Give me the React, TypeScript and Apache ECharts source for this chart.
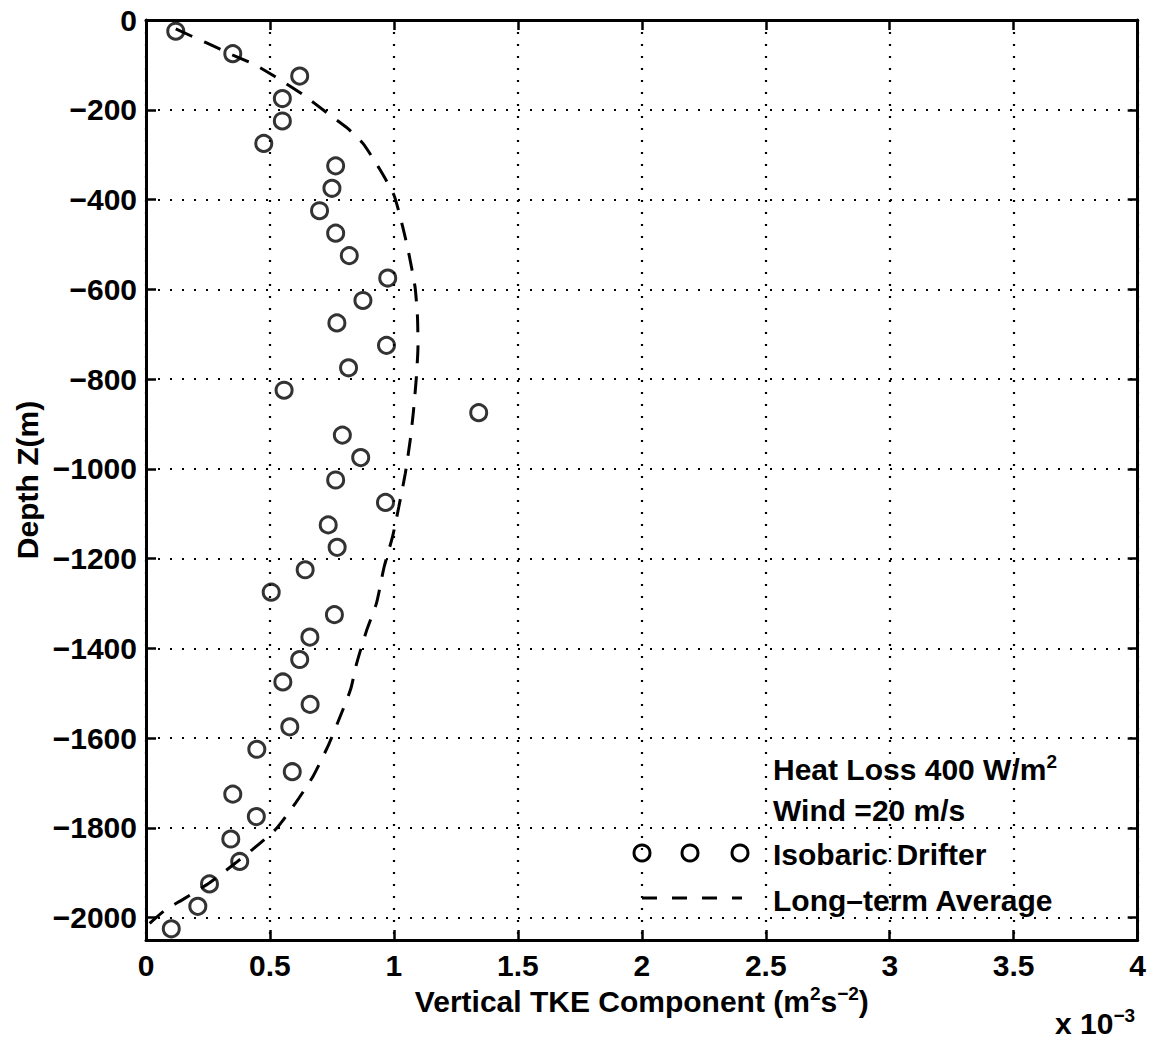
import React, { useEffect, useRef } from "react";
import * as echarts from "echarts";

// Isobaric drifter estimates (TKE in units of 1e-3 m^2 s^-2, depth in m)
const drifterDepth = [
  -25, -75, -125, -175, -225, -275, -325, -375, -425, -475, -525, -575, -625, -675,
  -725, -775, -825, -875, -925, -975, -1025, -1075, -1125, -1175, -1225, -1275,
  -1325, -1375, -1425, -1475, -1525, -1575, -1625, -1675, -1725, -1775, -1825,
  -1875, -1925, -1975, -2025,
];
const drifterTke = [
  0.12, 0.35, 0.62, 0.55, 0.55, 0.475, 0.765, 0.75, 0.7, 0.765, 0.82, 0.975, 0.875, 0.77,
  0.97, 0.817, 0.557, 1.342, 0.792, 0.866, 0.765, 0.966, 0.735, 0.771, 0.642, 0.505,
  0.76, 0.661, 0.62, 0.552, 0.662, 0.58, 0.447, 0.59, 0.35, 0.445, 0.342,
  0.378, 0.256, 0.209, 0.102,
];

// Long-term average profile
const averageDepth = [
  -20, -50, -78, -100, -126, -165, -207, -240, -275, -330, -390, -460, -520, -594,
  -661, -727, -800, -876, -935, -1010, -1084, -1150, -1220, -1299, -1360, -1433,
  -1492, -1566, -1618, -1685, -1745, -1804, -1849, -1878, -1923, -1960, -1982, -2020,
];
const averageTke = [
  0.12, 0.24, 0.35, 0.44, 0.52, 0.63, 0.73, 0.81, 0.875, 0.94, 1.0, 1.035, 1.06, 1.085,
  1.095, 1.097, 1.09, 1.078, 1.066, 1.046, 1.02, 0.995, 0.96, 0.93, 0.89, 0.85,
  0.825, 0.773, 0.734, 0.674, 0.603, 0.522, 0.428, 0.362, 0.255, 0.148, 0.08, 0.0,
];

const legendLines = ["Heat Loss 400 W/m{sup|2}", "Wind =20 m/s", "Isobaric Drifter", "Long\u2013term Average"];

export default function App() {
  const ref = useRef<HTMLDivElement>(null);

  useEffect(() => {
    if (!ref.current) return;
    const chart = echarts.init(ref.current, null, { renderer: "svg" });
    const font = "'Liberation Sans', Arial, Helvetica, sans-serif";
    const ink = "#000";
    const fs = 30;
    const fw = "bold";
    const sup = { fontSize: 19, fontWeight: fw, fontFamily: font, color: ink, padding: [0, 0, 16, 0] };
    const dotted = { show: true, lineStyle: { color: ink, width: 2.2, type: [2, 10] as any } };
    const axisLine = { show: true, onZero: false, lineStyle: { color: ink, width: 3 } };
    const axisTick = { show: true, inside: true, length: 10, lineStyle: { color: ink, width: 2.5 } };
    const xCommon = { type: "value", min: 0, max: 4, interval: 0.5 };
    const yCommon = { type: "value", min: -2050, max: 0, splitNumber: 10, minInterval: 200, maxInterval: 200 };

    const legendX = 773;
    const legendY = [769, 812, 856, 902];

    chart.setOption({
      animation: false,
      backgroundColor: "#fff",
      grid: { left: 146, right: 8, top: 20, bottom: 101 },
      xAxis: [
        {
          ...xCommon,
          position: "bottom",
          axisLine,
          axisTick,
          splitLine: dotted,
          axisLabel: {
            fontSize: fs,
            fontWeight: fw,
            fontFamily: font,
            color: ink,
            margin: 10,
            formatter: (v: number) => String(v),
          },
          name: "Vertical TKE Component (m{sup|2}s{sup|\u22122})",
          nameLocation: "middle",
          nameGap: 44,
          nameMoveOverlap: false,
          nameTextStyle: { fontSize: fs, fontWeight: fw, fontFamily: font, color: ink, rich: { sup } },
        },
        {
          ...xCommon,
          position: "top",
          axisLine,
          axisTick,
          splitLine: { show: false },
          axisLabel: { show: false },
        },
      ],
      yAxis: [
        {
          ...yCommon,
          position: "left",
          axisLine,
          axisTick,
          splitLine: dotted,
          axisLabel: {
            fontSize: fs,
            fontWeight: fw,
            fontFamily: font,
            color: ink,
            margin: 9,
            showMinLabel: false,
            formatter: (v: number) => (v < 0 ? "\u2212" + Math.abs(v) : String(v)),
          },
          name: "Depth Z(m)",
          nameLocation: "middle",
          nameGap: 104,
          nameMoveOverlap: false,
          nameTextStyle: { fontSize: fs, fontWeight: fw, fontFamily: font, color: ink },
        },
        {
          ...yCommon,
          position: "right",
          axisLine,
          axisTick,
          splitLine: { show: false },
          axisLabel: { show: false },
        },
      ],
      series: [
        {
          name: "Long-term Average",
          type: "line",
          xAxisIndex: 0,
          yAxisIndex: 0,
          data: averageTke.map((x, i) => [x, averageDepth[i]]),
          showSymbol: false,
          smooth: 0.2,
          lineStyle: { color: ink, width: 3, type: [18, 13] as any },
          z: 2,
        },
        {
          name: "Isobaric Drifter",
          type: "scatter",
          xAxisIndex: 0,
          yAxisIndex: 0,
          data: drifterTke.map((x, i) => [x, drifterDepth[i]]),
          symbol: "circle",
          symbolSize: 16,
          itemStyle: { color: "rgba(0,0,0,0)", borderColor: ink, borderWidth: 3 },
          z: 3,
        },
      ],
      graphic: [
        ...legendLines.map((t, i) => ({
          type: "text",
          left: legendX,
          top: legendY[i] - 17,
          z: 10,
          style: {
            text: t,
            fontSize: fs,
            fontWeight: fw,
            fontFamily: font,
            fill: ink,
            rich: { sup: { ...sup, fill: ink } },
          },
        })),
        ...[642, 690, 740].map((cx) => ({
          type: "circle",
          shape: { cx, cy: 853, r: 8 },
          z: 10,
          style: { fill: "none", stroke: ink, lineWidth: 3 },
        })),
        {
          type: "line",
          shape: { x1: 642, y1: 898, x2: 742, y2: 898 },
          z: 10,
          style: { stroke: ink, lineWidth: 3, lineDash: [15, 15] },
        },
        {
          type: "text",
          left: 1055,
          top: 1006,
          z: 10,
          style: {
            text: "x 10{sup|\u22123}",
            fontSize: fs,
            fontWeight: fw,
            fontFamily: font,
            fill: ink,
            rich: { sup: { ...sup, fill: ink } },
          },
        },
      ],
    });

    return () => chart.dispose();
  }, []);

  return (
    <div
      ref={ref}
      style={{ position: "fixed", left: 0, top: 0, width: 1149, height: 1041, background: "#fff" }}
    />
  );
}
